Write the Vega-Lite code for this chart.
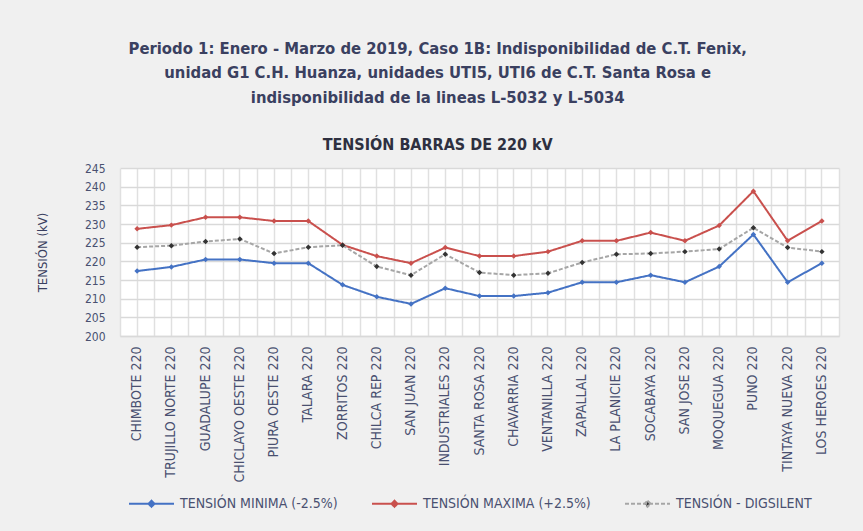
{
  "$schema": "https://vega.github.io/schema/vega-lite/v6.json",
  "width": 719,
  "height": 168,
  "autosize": {"type": "none"},
  "padding": {"left": 120, "top": 168, "right": 24, "bottom": 195},
  "background": "#f0f0f0",
  "title": {
    "text": ["Periodo 1: Enero - Marzo de 2019, Caso 1B: Indisponibilidad de C.T. Fenix,", "unidad G1 C.H. Huanza, unidades UTI5, UTI6 de C.T. Santa Rosa e", "indisponibilidad de la lineas L-5032 y L-5034"],
    "subtitle": "TENSIÓN BARRAS DE 220 kV",
    "anchor": "middle",
    "frame": "bounds",
    "font": "DejaVu Sans Condensed, sans-serif",
    "fontSize": 16.5,
    "fontWeight": "bold",
    "color": "#3a4060",
    "lineHeight": 24.5,
    "subtitleFont": "DejaVu Sans Condensed, sans-serif",
    "subtitleFontSize": 16,
    "subtitleFontWeight": "bold",
    "subtitleColor": "#2e3040",
    "subtitlePadding": 31,
    "offset": 9
  },
  "config": {
    "view": {"fill": "white", "stroke": null},
    "font": "DejaVu Sans Condensed, sans-serif",
    "axisY": {"labelOverlap": false}
  },
  "data": {
    "values": [
      {"barra": "CHIMBOTE 220", "min": 217.4, "max": 228.7, "dig": 223.8},
      {"barra": "TRUJILLO NORTE 220", "min": 218.5, "max": 229.7, "dig": 224.2},
      {"barra": "GUADALUPE 220", "min": 220.5, "max": 231.8, "dig": 225.3},
      {"barra": "CHICLAYO OESTE 220", "min": 220.5, "max": 231.8, "dig": 226.0},
      {"barra": "PIURA OESTE 220", "min": 219.5, "max": 230.8, "dig": 222.1},
      {"barra": "TALARA 220", "min": 219.5, "max": 230.8, "dig": 223.8},
      {"barra": "ZORRITOS 220", "min": 213.7, "max": 224.4, "dig": 224.3},
      {"barra": "CHILCA REP 220", "min": 210.5, "max": 221.4, "dig": 218.6},
      {"barra": "SAN JUAN 220", "min": 208.6, "max": 219.5, "dig": 216.3},
      {"barra": "INDUSTRIALES 220", "min": 212.8, "max": 223.7, "dig": 221.9},
      {"barra": "SANTA ROSA 220", "min": 210.7, "max": 221.4, "dig": 217.0},
      {"barra": "CHAVARRIA 220", "min": 210.7, "max": 221.4, "dig": 216.3},
      {"barra": "VENTANILLA 220", "min": 211.6, "max": 222.6, "dig": 216.8},
      {"barra": "ZAPALLAL 220", "min": 214.4, "max": 225.5, "dig": 219.7},
      {"barra": "LA PLANICIE 220", "min": 214.4, "max": 225.5, "dig": 221.9},
      {"barra": "SOCABAYA 220", "min": 216.3, "max": 227.7, "dig": 222.1},
      {"barra": "SAN JOSE 220", "min": 214.4, "max": 225.5, "dig": 222.6},
      {"barra": "MOQUEGUA 220", "min": 218.6, "max": 229.6, "dig": 223.3},
      {"barra": "PUNO 220", "min": 227.2, "max": 238.8, "dig": 229.0},
      {"barra": "TINTAYA NUEVA 220", "min": 214.4, "max": 225.5, "dig": 223.7},
      {"barra": "LOS HEROES 220", "min": 219.5, "max": 230.8, "dig": 222.6}
    ]
  },
  "transform": [{"fold": ["min", "max", "dig"], "as": ["serie", "v"]}],
  "encoding": {
    "y": {
      "field": "v", "type": "quantitative",
      "scale": {"domain": [200, 245], "zero": false, "nice": false},
      "axis": {
        "values": [200, 205, 210, 215, 220, 225, 230, 235, 240, 245],
        "title": "TENSIÓN (kV)", "titleFontSize": 13, "titleFontWeight": "normal", "titleColor": "#3a4060",
        "titlePadding": 35, "labelFontSize": 12, "labelColor": "#4a5070", "labelPadding": 15, "labelOverlap": false,
        "ticks": false, "domain": false, "grid": true, "gridColor": "#d9d9d9", "gridWidth": 1.5
      }
    }
  },
  "layer": [
    {
      "mark": {"type": "line", "strokeWidth": 2},
      "encoding": {
        "x": {
          "field": "barra", "type": "nominal", "sort": null,
          "scale": {"type": "band", "paddingInner": 0, "paddingOuter": 0},
          "axis": {
            "title": null, "labelAngle": -90, "labelFontSize": 14, "labelColor": "#4a5070",
            "labelPadding": 10, "labelOverlap": false, "ticks": false, "domain": true, "domainColor": "#d9d9d9", "domainWidth": 1.5,
            "grid": true, "gridColor": "#e0e0e0", "gridWidth": 1.5
          }
        },
        "color": {
          "field": "serie", "type": "nominal",
          "scale": {"domain": ["min", "max", "dig"], "range": ["#4472C4", "#C9504D", "#A6A6A6"]},
          "legend": {
            "title": null, "orient": "bottom", "direction": "horizontal",
            "labelExpr": "{'min': 'TENSIÓN MINIMA (-2.5%)', 'max': 'TENSIÓN MAXIMA (+2.5%)', 'dig': 'TENSIÓN - DIGSILENT'}[datum.value]",
            "symbolType": "M-1,0L5,0M2,-0.4L2.4,0L2,0.4L1.6,0Z",
            "symbolSize": 225, "symbolStrokeWidth": 2,
            "labelFontSize": 14, "labelLimit": 300, "labelColor": "#4a5070", "columnPadding": 30, "labelOffset": 35, "offset": 4, "padding": 8,
            "encode": {"symbols": {"update": {"fill": {"signal": "datum.value === 'dig' ? '#333333' : scale('color', datum.value)"}}}}
          }
        },
        "strokeDash": {
          "field": "serie", "type": "nominal",
          "scale": {"domain": ["min", "max", "dig"], "range": [[1, 0], [1, 0], [4, 2]]},
          "legend": null
        }
      }
    },
    {
      "mark": {"type": "point", "shape": "diamond", "filled": true, "size": 30, "opacity": 1},
      "encoding": {
        "x": {
          "field": "barra", "type": "nominal", "sort": null,
          "axis": {"orient": "top", "tickBand": "extent", "labels": false, "ticks": false, "domain": false, "title": null, "grid": true, "gridColor": "#e0e0e0", "gridWidth": 1.5}
        },
        "fill": {
          "field": "serie", "type": "nominal",
          "scale": {"domain": ["min", "max", "dig"], "range": ["#4472C4", "#C9504D", "#333333"]},
          "legend": null
        }
      }
    }
  ],
  "resolve": {"axis": {"x": "independent"}}
}
